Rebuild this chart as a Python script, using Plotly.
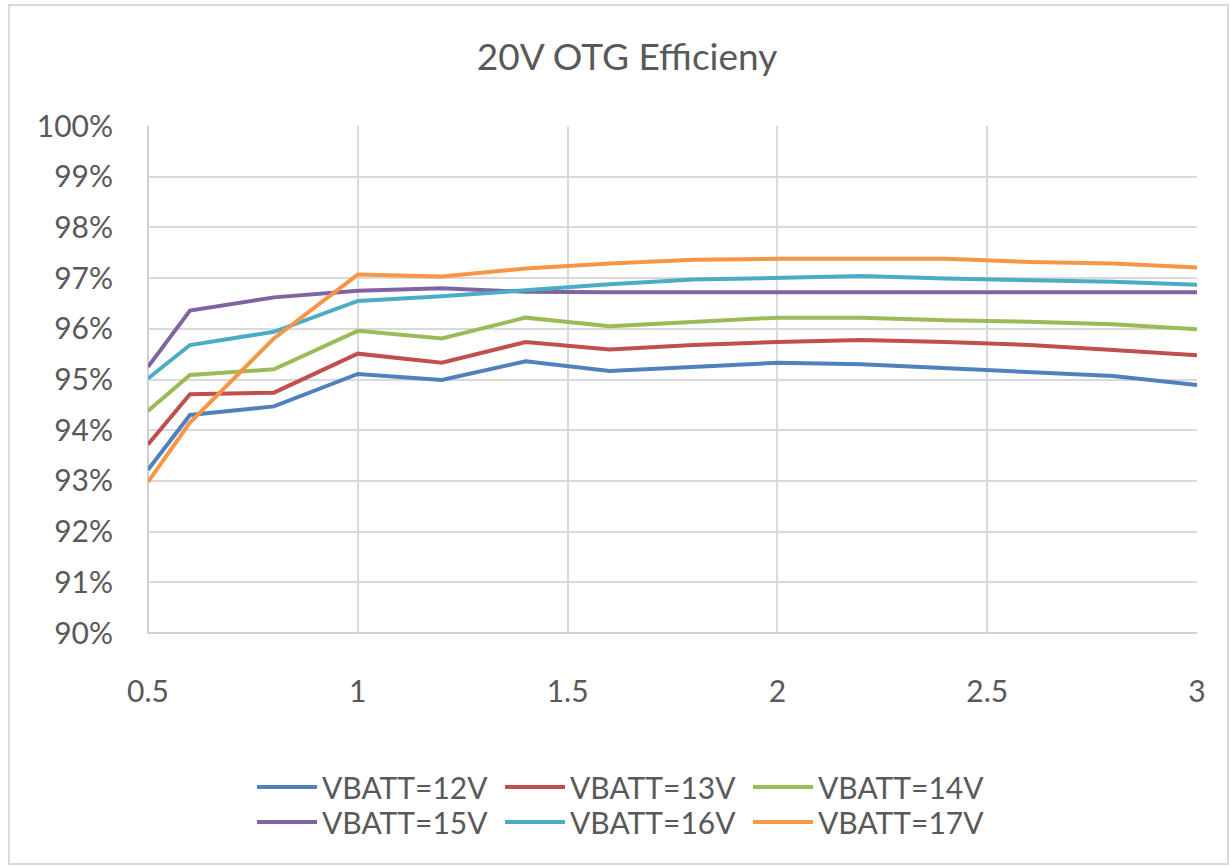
import plotly.graph_objects as go

# Load current (A)
current = [0.5, 0.6, 0.8, 1.0, 1.2, 1.4, 1.6, 1.8, 2.0, 2.2, 2.4, 2.6, 2.8, 3.0]

# Efficiency (%) for each battery voltage
eff_12v = [93.22, 94.30, 94.47, 95.11, 94.99, 95.36, 95.17, 95.25, 95.33, 95.30, 95.22, 95.15, 95.07, 94.89]
eff_13v = [93.72, 94.71, 94.74, 95.51, 95.33, 95.74, 95.59, 95.68, 95.74, 95.78, 95.74, 95.68, 95.58, 95.48]
eff_14v = [94.38, 95.09, 95.20, 95.96, 95.81, 96.22, 96.05, 96.14, 96.22, 96.22, 96.17, 96.14, 96.09, 95.99]
eff_15v = [95.25, 96.36, 96.62, 96.75, 96.80, 96.73, 96.72, 96.72, 96.72, 96.72, 96.72, 96.72, 96.72, 96.72]
eff_16v = [95.02, 95.68, 95.94, 96.55, 96.64, 96.76, 96.88, 96.97, 97.00, 97.04, 96.99, 96.96, 96.93, 96.87]
eff_17v = [92.98, 94.15, 95.81, 97.07, 97.03, 97.19, 97.29, 97.36, 97.38, 97.38, 97.38, 97.32, 97.29, 97.21]

series_names = ["VBATT=12V", "VBATT=13V", "VBATT=14V", "VBATT=15V", "VBATT=16V", "VBATT=17V"]
series_values = [eff_12v, eff_13v, eff_14v, eff_15v, eff_16v, eff_17v]
colors = ["#4F81BD", "#C0504D", "#9BBB59", "#8064A2", "#4BACC6", "#F79646"]

y_ticks = list(range(90, 101))
y_tick_labels = [f"{v}%" for v in y_ticks]
x_ticks = [0.5, 1, 1.5, 2, 2.5, 3]
x_tick_labels = ["0.5", "1", "1.5", "2", "2.5", "3"]

FONT = "Lato"
GRAY = "#595959"

fig = go.Figure()
for i, (name, vals, col) in enumerate(zip(series_names, series_values, colors)):
    fig.add_trace(go.Scatter(
        x=current, y=vals, name=name, mode="lines",
        line=dict(color=col, width=4),
        legend="legend" if i < 3 else "legend2",
    ))

W, H = 1230, 866
L, R, T, B = 148, 33, 126, 233
pw, ph = W - L - R, H - T - B

def px_x(px):
    return (px - L) / pw

def px_y(py):
    return (H - B - py) / ph

legend_common = dict(
    orientation="h", xanchor="left", yanchor="middle",
    font=dict(family=FONT, size=30, color=GRAY),
    bgcolor="rgba(0,0,0,0)", entrywidth=173, itemwidth=60,
    xref="paper", yref="paper", tracegroupgap=0,
)

fig.update_layout(
    width=W, height=H,
    margin=dict(l=L, r=R, t=T, b=B),
    paper_bgcolor="white", plot_bgcolor="white",
    title=dict(text="20V OTG Efficieny", x=627 / W, xanchor="center",
               y=1 - 57 / H, yanchor="middle",
               font=dict(family=FONT, size=37, color=GRAY)),
    xaxis=dict(range=[0.5, 3], tickvals=x_ticks, ticktext=x_tick_labels,
               showgrid=True, gridcolor="#D9D9D9", gridwidth=2,
               zeroline=False, showline=False, ticks="",
               ticklabelstandoff=38,
               tickfont=dict(family=FONT, size=30, color=GRAY)),
    yaxis=dict(range=[90, 100], tickvals=y_ticks, ticktext=y_tick_labels,
               showgrid=True, gridcolor="#D9D9D9", gridwidth=2,
               zeroline=False, showline=False, ticks="",
               ticklabelstandoff=34,
               tickfont=dict(family=FONT, size=30, color=GRAY)),
    legend=dict(x=px_x(252), y=px_y(787), **legend_common),
    legend2=dict(x=px_x(252), y=px_y(822), **legend_common),
    showlegend=True,
    shapes=[
        # plot frame edges
        dict(type="line", xref="paper", yref="paper", x0=0, x1=0, y0=0, y1=1,
             line=dict(color="#D0D0D0", width=2), layer="below"),
        dict(type="line", xref="paper", yref="paper", x0=0, x1=1, y0=0, y1=0,
             line=dict(color="#D0D0D0", width=2), layer="below"),
        # outer chart border
        dict(type="rect", xref="paper", yref="paper",
             x0=px_x(9), x1=px_x(1228), y0=px_y(864), y1=px_y(5),
             line=dict(color="#D9D9D9", width=2)),
    ],
)

fig.write_html("out.html")
